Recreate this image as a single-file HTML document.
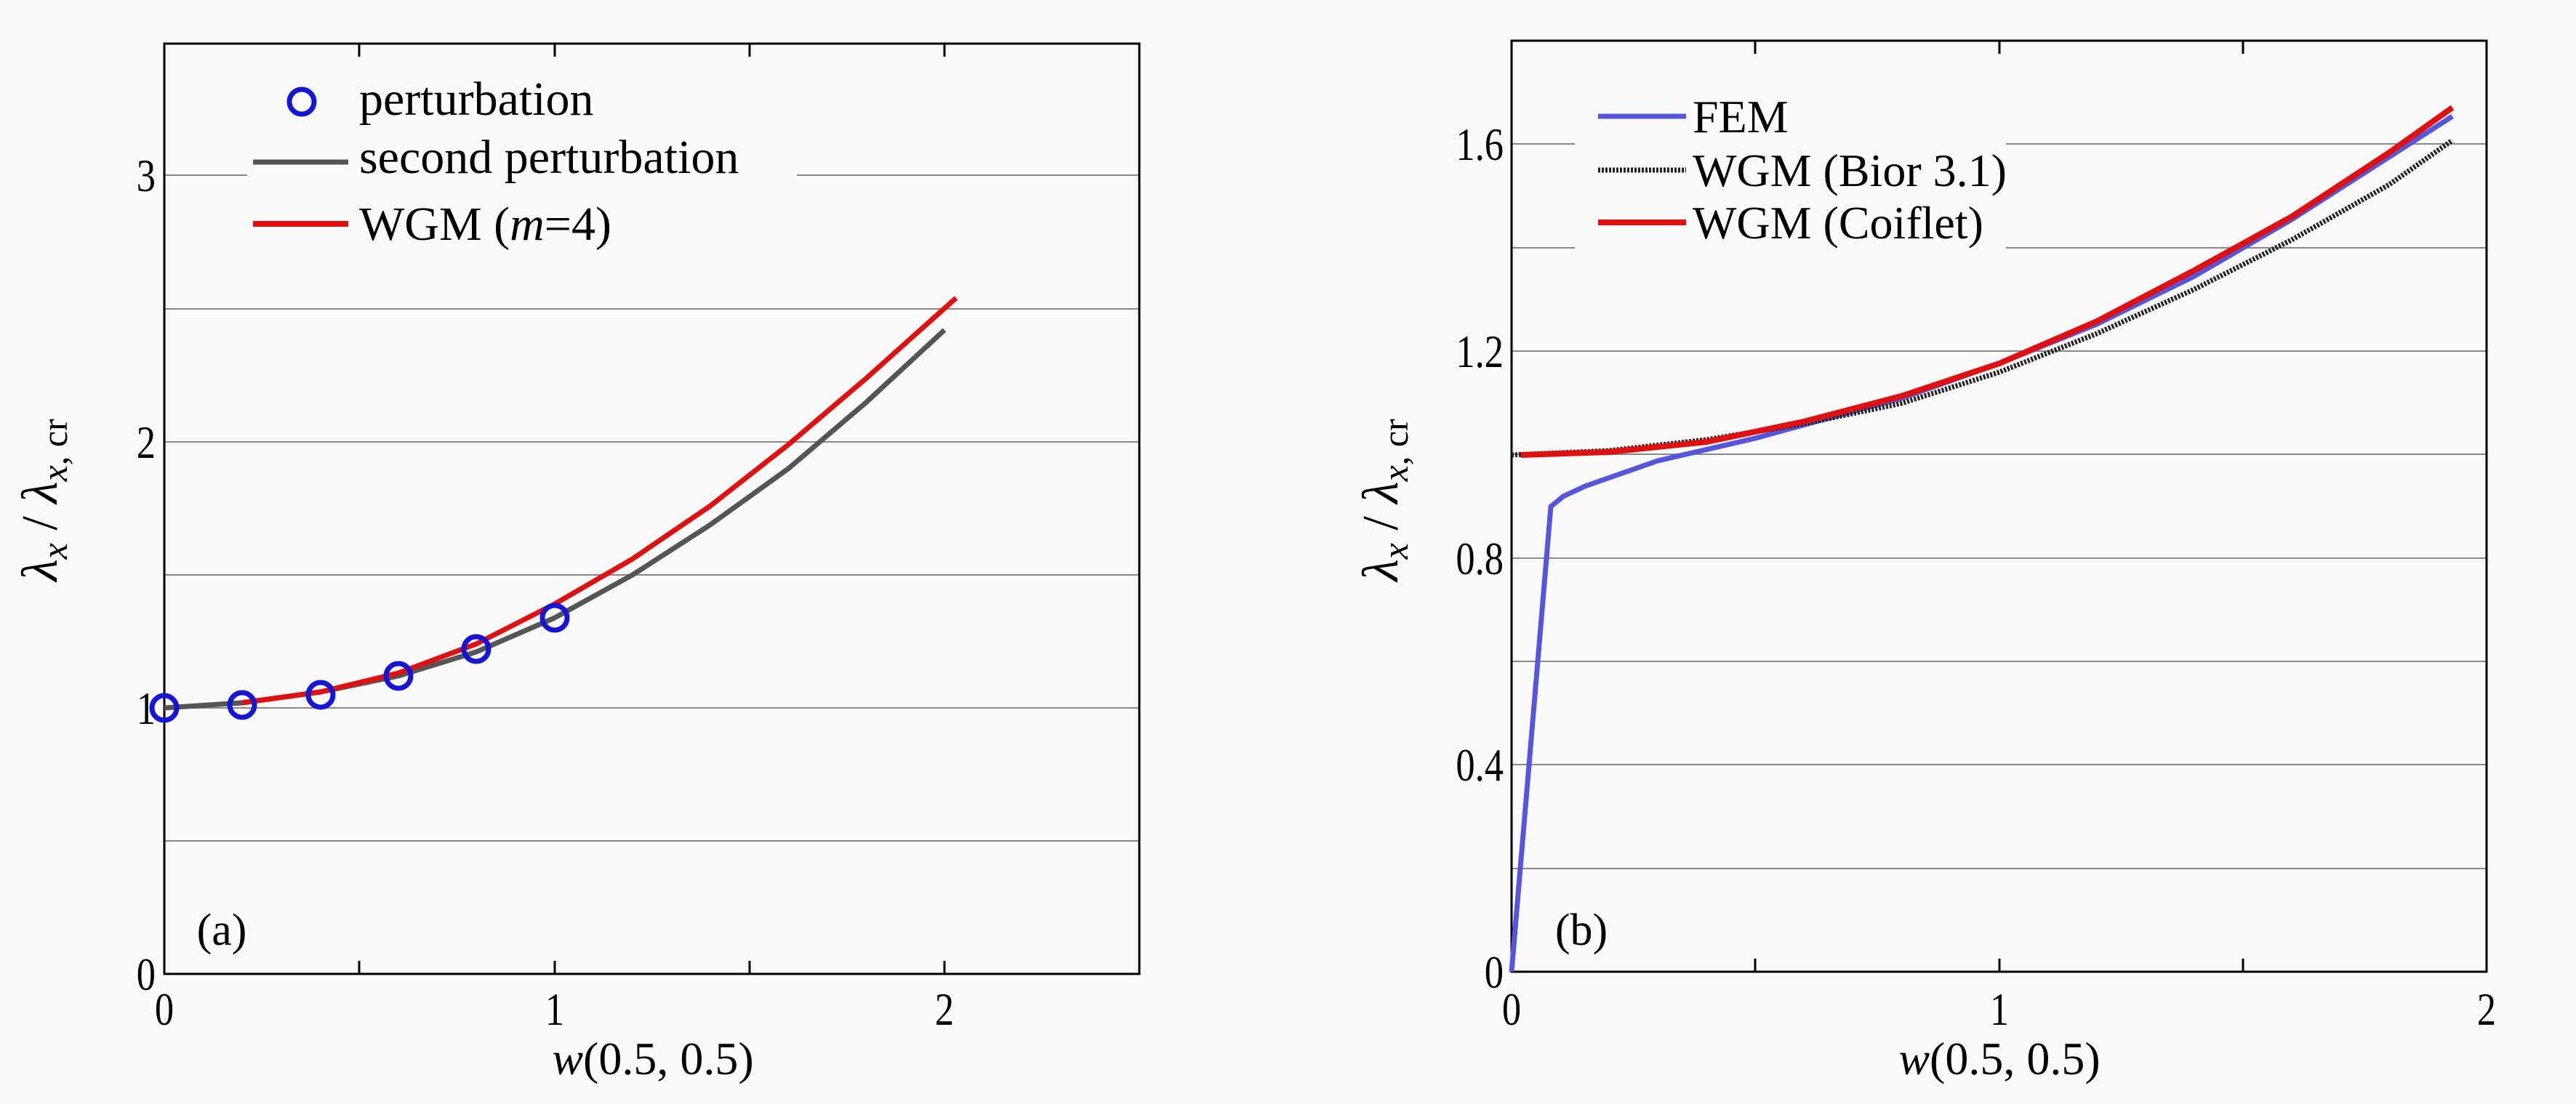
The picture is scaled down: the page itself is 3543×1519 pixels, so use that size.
<!DOCTYPE html>
<html><head><meta charset="utf-8"><style>
html,body{margin:0;padding:0;background:#fafafa;}
svg{display:block;font-family:"Liberation Serif",serif;}
</style></head><body>
<svg width="3543" height="1519" viewBox="0 0 3543 1519" xmlns="http://www.w3.org/2000/svg">
<rect width="3543" height="1519" fill="#fafafa"/>
<!-- LEFT PANEL -->
<g stroke="#888" stroke-width="2">
<line x1="226" y1="1157" x2="1567" y2="1157"/>
<line x1="226" y1="974" x2="1567" y2="974"/>
<line x1="226" y1="791" x2="1567" y2="791"/>
<line x1="226" y1="608" x2="1567" y2="608"/>
<line x1="226" y1="425" x2="1567" y2="425"/>
<line x1="226" y1="241" x2="1567" y2="241"/>
</g>
<rect x="340" y="95" width="756" height="270" fill="#fafafa"/>
<g stroke="#000" stroke-width="3">
<line x1="494" y1="1340" x2="494" y2="1322"/><line x1="763" y1="1340" x2="763" y2="1322"/><line x1="1031" y1="1340" x2="1031" y2="1322"/><line x1="1299" y1="1340" x2="1299" y2="1322"/>
<line x1="494" y1="60" x2="494" y2="78"/><line x1="763" y1="60" x2="763" y2="78"/><line x1="1031" y1="60" x2="1031" y2="78"/><line x1="1299" y1="60" x2="1299" y2="78"/>
</g>
<rect x="226" y="60" width="1341" height="1280" fill="none" stroke="#000" stroke-width="3"/>
<polyline fill="none" stroke="#555" stroke-width="7" points="226,974 333,967 441,952 548,930 655,897 763,850 870,791 977,722 1084,645 1192,553 1299,454"/>
<polyline fill="none" stroke="#e01010" stroke-width="7" points="333,967 441,952 548,926 655,886 763,831 870,769 977,696 1084,612 1192,520 1315,410"/>
<g fill="none" stroke="#1515d8" stroke-width="7">
<circle cx="226" cy="974" r="17"/><circle cx="333" cy="970" r="17"/><circle cx="441" cy="956" r="17"/><circle cx="548" cy="930" r="17"/><circle cx="655" cy="893" r="17"/><circle cx="763" cy="850" r="17"/>
</g>
<g font-size="64" text-anchor="middle" fill="#000">
<text transform="translate(226,1410) scale(0.82,1)">0</text><text transform="translate(763,1410) scale(0.82,1)">1</text><text transform="translate(1299,1410) scale(0.82,1)">2</text>
</g>
<g font-size="64" text-anchor="end" fill="#000">
<text transform="translate(214,1362) scale(0.82,1)">0</text><text transform="translate(214,996) scale(0.82,1)">1</text><text transform="translate(214,630) scale(0.82,1)">2</text><text transform="translate(214,263) scale(0.82,1)">3</text>
</g>
<text x="898" y="1478" font-size="64" text-anchor="middle"><tspan font-style="italic">w</tspan>(0.5, 0.5)</text>
<text transform="translate(78,688) rotate(-90)" font-size="70" text-anchor="middle"><tspan font-style="italic">λ</tspan><tspan font-style="italic" font-size="50" dy="14">x</tspan><tspan dy="-14"> / </tspan><tspan font-style="italic">λ</tspan><tspan font-size="50" dy="14"><tspan font-style="italic">x</tspan>, cr</tspan></text>
<text x="305" y="1300" font-size="62" text-anchor="middle">(a)</text>
<circle cx="415" cy="140" r="17" fill="none" stroke="#1515d8" stroke-width="7"/>
<line x1="348" y1="223" x2="479" y2="223" stroke="#555" stroke-width="7"/>
<line x1="348" y1="308" x2="479" y2="308" stroke="#e01010" stroke-width="8"/>
<g font-size="66" fill="#000">
<text x="494" y="158">perturbation</text>
<text x="494" y="238">second perturbation</text>
<text x="494" y="330">WGM (<tspan font-style="italic">m</tspan>=4)</text>
</g>
<!-- RIGHT PANEL -->
<g stroke="#888" stroke-width="2">
<line x1="2079" y1="1195" x2="3420" y2="1195"/>
<line x1="2079" y1="1052" x2="3420" y2="1052"/>
<line x1="2079" y1="910" x2="3420" y2="910"/>
<line x1="2079" y1="768" x2="3420" y2="768"/>
<line x1="2079" y1="625" x2="3420" y2="625"/>
<line x1="2079" y1="483" x2="3420" y2="483"/>
<line x1="2079" y1="341" x2="3420" y2="341"/>
<line x1="2079" y1="198" x2="3420" y2="198"/>
</g>
<rect x="2166" y="110" width="593" height="255" fill="#fafafa"/>
<g stroke="#000" stroke-width="3">
<line x1="2414" y1="1337" x2="2414" y2="1319"/><line x1="2750" y1="1337" x2="2750" y2="1319"/><line x1="3085" y1="1337" x2="3085" y2="1319"/>
<line x1="2414" y1="56" x2="2414" y2="74"/><line x1="2750" y1="56" x2="2750" y2="74"/><line x1="3085" y1="56" x2="3085" y2="74"/>
</g>
<rect x="2079" y="56" width="1341" height="1281" fill="none" stroke="#000" stroke-width="3"/>
<polyline fill="none" stroke="#5555dd" stroke-width="7" points="2079,1337 2133,697 2150,683 2180,669 2280,634 2414,603 2615,548 2750,500 2884,446 3018,380 3152,302 3286,216 3373,160"/>
<polyline fill="none" stroke="#222" stroke-width="7" stroke-dasharray="3,2" points="2079,626 2213,620 2347,605 2481,583 2615,555 2750,512 2884,459 3018,398 3152,330 3286,254 3373,193"/>
<polyline fill="none" stroke="#e01010" stroke-width="8" points="2092,626 2213,622 2347,608 2481,580 2615,545 2750,500 2884,442 3018,372 3152,298 3286,210 3373,148"/>
<g font-size="64" text-anchor="middle" fill="#000">
<text transform="translate(2079,1410) scale(0.82,1)">0</text><text transform="translate(2750,1410) scale(0.82,1)">1</text><text transform="translate(3420,1410) scale(0.82,1)">2</text>
</g>
<g font-size="64" text-anchor="end" fill="#000">
<text transform="translate(2068,1359) scale(0.82,1)">0</text><text transform="translate(2068,1074) scale(0.82,1)">0.4</text><text transform="translate(2068,790) scale(0.82,1)">0.8</text><text transform="translate(2068,505) scale(0.82,1)">1.2</text><text transform="translate(2068,220) scale(0.82,1)">1.6</text>
</g>
<text x="2750" y="1478" font-size="64" text-anchor="middle"><tspan font-style="italic">w</tspan>(0.5, 0.5)</text>
<text transform="translate(1922,688) rotate(-90)" font-size="70" text-anchor="middle"><tspan font-style="italic">λ</tspan><tspan font-style="italic" font-size="50" dy="14">x</tspan><tspan dy="-14"> / </tspan><tspan font-style="italic">λ</tspan><tspan font-size="50" dy="14"><tspan font-style="italic">x</tspan>, cr</tspan></text>
<text x="2175" y="1300" font-size="62" text-anchor="middle">(b)</text>
<line x1="2198" y1="160" x2="2319" y2="160" stroke="#5555dd" stroke-width="7"/>
<line x1="2198" y1="234" x2="2319" y2="234" stroke="#222" stroke-width="7" stroke-dasharray="3,2"/>
<line x1="2198" y1="306" x2="2319" y2="306" stroke="#e01010" stroke-width="8"/>
<g font-size="64" fill="#000">
<text x="2328" y="182">FEM</text>
<text x="2328" y="256">WGM (Bior 3.1)</text>
<text x="2328" y="328">WGM (Coiflet)</text>
</g>
</svg>
</body></html>
